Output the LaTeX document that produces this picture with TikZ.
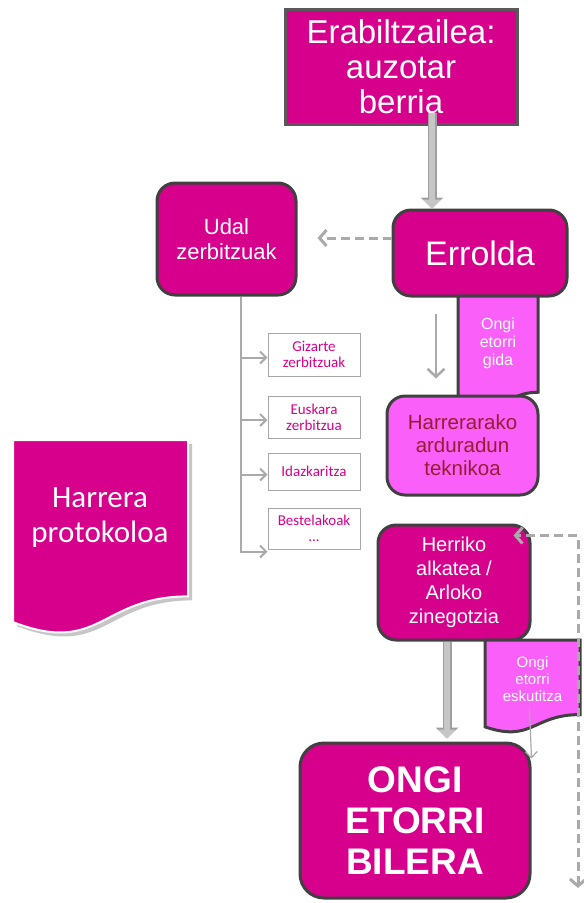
\documentclass[tikz,border=0pt]{standalone}
\usepackage{fontspec}
\setmainfont{Liberation Sans}
\newfontfamily\calib{Carlito}
\usetikzlibrary{arrows.meta}

\definecolor{mag}{RGB}{214,0,140}
\definecolor{lmag}{RGB}{250,95,250}
\definecolor{edge}{RGB}{64,64,64}
\definecolor{arr}{RGB}{170,170,170}
\definecolor{brick}{RGB}{150,30,50}

% document sheet: style, x, y, width, height
\newcommand{\docsheet}[5]{%
  \path[#1] (#2,#3) -- ({#2+#4},#3) -- ({#2+#4},{#3+0.802*#5})
    .. controls ({#2+0.5*#4},{#3+0.802*#5}) and ({#2+0.5*#4},{#3+1.107*#5})
    .. (#2,{#3+0.934*#5}) -- cycle;}

\begin{document}
\begin{tikzpicture}
  [x=1pt,y=-1pt,
   bigbox/.style={rectangle,rounded corners=18pt,draw=edge,line width=3pt,
     fill=mag,text=white,align=center,inner sep=0pt},
   svcbox/.style={rectangle,draw=gray!70,line width=1pt,fill=white,text=mag,
     align=center,inner sep=0pt,minimum width=92pt,
     font=\calib\fontsize{15}{16}\selectfont},
   docshape/.style={draw=edge,line width=3pt,fill=lmag},
   fatarrow/.style={line width=6pt,draw=gray!45,-{Triangle[length=9pt,width=18pt]},
     preaction={draw=gray!75,line width=9pt,-{Triangle[length=11pt,width=22pt]}}},
   thinarrow/.style={line width=2.5pt,draw=arr,-{Straight Barb[length=8pt,width=17pt]}},
   twigarrow/.style={line width=2pt,draw=arr,-{Straight Barb[length=6pt,width=12pt]}},
   dasharrow/.style={line width=3pt,draw=arr,dash pattern=on 9pt off 5pt,
     {Straight Barb[length=7pt,width=16pt]}-{Straight Barb[length=7pt,width=16pt]}}]

  \useasboundingbox (0,0) rectangle (584,903);

  % top of the flow
  \node[rectangle,draw=gray!70!black,line width=3pt,fill=mag,text=white,align=center,
    minimum width=232pt,minimum height=115pt,inner sep=0pt,
    font=\fontsize{33}{35}\selectfont] (user) at (401,66.5) {Erabiltzailea:\\auzotar\\berria};
  \node[bigbox,minimum width=174pt,minimum height=86pt,
    font=\fontsize{34}{38}\selectfont] (errolda) at (480,253) {Errolda};
  \node[bigbox,minimum width=139pt,minimum height=112pt,
    font=\fontsize{22}{25}\selectfont] (udal) at (226.5,239) {Udal\\zerbitzuak};

  \draw[fatarrow] ([xshift=31pt,yshift=13pt]user.south) -- ([xshift=-48pt]errolda.north);
  \draw[dasharrow,{}-{Straight Barb[length=7pt,width=16pt]}]
    ([yshift=15pt]errolda.west) -- ([xshift=20pt,yshift=1pt]udal.east);

  % municipal services
  \node[svcbox,minimum height=43pt] (gizarte) at (314,354.5) {Gizarte\\zerbitzuak};
  \node[svcbox,minimum height=42pt] (euskara) at (314,417) {Euskara\\zerbitzua};
  \node[svcbox,minimum height=37pt] (idazk) at (314,471.5) {Idazkaritza};
  \node[svcbox,minimum height=41pt] (bestel) at (314,528.5) {Bestelakoak\\...};

  \coordinate (trunk) at ([xshift=14.5pt]udal.south);
  \draw[twigarrow] (trunk) |- ([yshift=-2pt]bestel.south west);
  \foreach \s in {gizarte,euskara,idazk}
    \draw[twigarrow] ([yshift=-3pt]\s.west -| trunk) -- ([yshift=-3pt]\s.west);

  % welcome guide
  \docsheet{docshape}{458}{296}{80}{120}
  \node[text=white,align=center,font=\fontsize{16}{18}\selectfont] (gida) at (498,343) {Ongi\\etorri\\gida};
  \node[bigbox,fill=lmag,text=brick,minimum width=151pt,minimum height=99pt,
    font=\fontsize{20.5}{23}\selectfont] (harr) at (462.5,445.5) {Harrerarako\\arduradun\\teknikoa};
  \draw[thinarrow] ([xshift=-44pt,yshift=-16pt]errolda.south) -- ([xshift=-26.5pt,yshift=16pt]harr.north);

  % protocol sheet
  \docsheet{fill=gray!45}{17}{444}{175}{195}
  \docsheet{fill=mag,draw=white,line width=2pt}{13}{440}{175}{195}
  \node[text=white,align=center,font=\calib\fontsize{31}{35}\selectfont] (proto) at (100,517.5) {Harrera\\protokoloa};

  % mayor and meeting
  \node[bigbox,minimum width=152pt,minimum height=115pt,
    font=\fontsize{20}{24}\selectfont] (herriko) at (454,582.5) {Herriko\\alkatea /\\Arloko\\zinegotzia};
  \docsheet{docshape}{485}{640}{95}{93}
  \node[text=white,align=center,inner sep=1pt,font=\fontsize{15}{17}\selectfont] (esk) at (532.5,679) {Ongi\\etorri\\eskutitza};
  \node[bigbox,rounded corners=24pt,minimum width=230pt,minimum height=155pt,
    font=\bfseries\fontsize{37}{41}\selectfont] (bilera) at (415,820.5) {ONGI\\ETORRI\\BILERA};

  \draw[fatarrow] ([xshift=-7pt]herriko.south) -- ([xshift=32pt,yshift=3pt]bilera.north);
  \draw[line width=1.2pt,draw=arr,-{Straight Barb[length=6pt,width=12pt]}]
    ([xshift=-3pt,yshift=-6pt]esk.south) -- ([yshift=-17pt]bilera.north east);

  \coordinate (fin) at (578,888);
  \draw[dasharrow] (fin) |- ([xshift=-18pt,yshift=-12pt]herriko.north east);

\end{tikzpicture}
\end{document}
